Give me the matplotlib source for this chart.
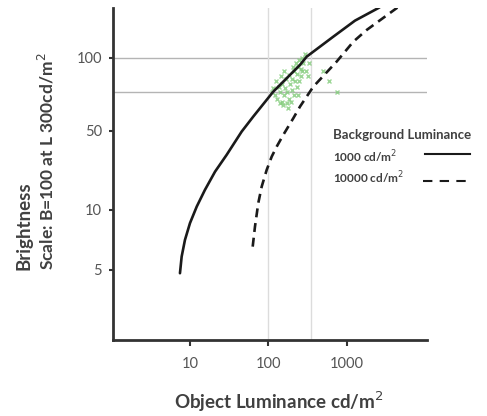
import numpy as np
import matplotlib
matplotlib.use("Agg")
import matplotlib.pyplot as plt
from matplotlib.lines import Line2D
from matplotlib.ticker import NullLocator

plt.rcParams["font.family"] = ["Lato", "DejaVu Sans"]

COR_TEXTO = "#404040"
COR_EIXO = "#333333"
COR_CURVA = "#1a1a1a"
COR_VERDE = "#84cc7c"

# curva com luminancia de fundo 1000 cd/m2
L_1000 = [7.45, 7.83, 8.63, 10.0, 12.2, 15.5, 20.9, 29.4, 45.7, 64.3, 115.8,
          254, 309, 676, 1280, 2541, 3583]
B_1000 = [4.81, 5.83, 7.07, 8.58, 10.7, 15.0, 21.8, 30.7, 49.3, 57.3, 72.6,
          93.6, 101.2, 122.4, 142.6, 160.7, 173]

# curva com luminancia de fundo 10000 cd/m2
L_10000 = [63.2, 67.6, 74.5, 82.4, 95.4, 110.5, 128, 155.4, 208.6, 254, 375.6,
           747, 1218, 1806, 4365, 5735]
B_10000 = [6.54, 8.25, 11.5, 16.1, 22.6, 29.6, 36.3, 46.1, 56.4, 63.0, 76.1,
           96.6, 116.7, 130.5, 160.7, 173]

# pontos observados (verde)
L_obs = [120, 130, 140, 150, 160, 135, 150, 165, 175, 185, 190, 200, 170, 185,
         200, 210, 220, 230, 240, 225, 250, 260, 270, 280, 290, 155, 175, 195,
         210, 230, 250, 260, 145, 160, 125, 115, 205, 300, 320, 500, 600, 750,
         330, 140, 180, 110, 240, 270]
B_obs = [70, 68, 72, 66, 70, 76, 78, 75, 72, 68, 78, 74, 82, 85,
         82, 88, 80, 86, 92, 95, 98, 90, 100, 95, 104, 64, 65, 66,
         70, 76, 80, 84, 84, 88, 80, 75, 92, 88, 84, 88, 80, 72,
         95, 65, 62, 72, 70, 88]

# linhas de referencia
REF_B = [100, 72]
REF_L = [100, 350]

Y_TICKS = [5, 10, 50, 100]
X_TICKS = [10, 100, 1000]

LEG_TITULO = "Background Luminance"
LEG_ROTULOS = ["1000 cd/m$^2$", "10000 cd/m$^2$"]

# escala do eixo y (nao e log: posicoes)
LOG_KNOTS = np.log10([1e-3, 1, 5, 10, 50, 100, 1000, 1e5])
POS_KNOTS = np.array([-600, -69, 70, 130, 209, 282, 524, 1500], dtype=float)


def forward(b):
    b = np.asarray(b, dtype=float)
    return np.interp(np.log10(np.clip(b, 1e-3, None)), LOG_KNOTS, POS_KNOTS)


def inverse(p):
    return 10 ** np.interp(np.asarray(p, dtype=float), POS_KNOTS, LOG_KNOTS)


fig = plt.figure(figsize=(4.87, 4.16), dpi=100, facecolor="white")
ax = fig.add_axes([0.232, 0.183, 0.645, 0.798])

ax.set_xscale("log")
ax.set_yscale("function", functions=(forward, inverse))
ax.set_xlim(1.04, 10650)
ax.set_ylim(float(inverse(0)), float(inverse(332)))

for b in REF_B:
    ax.axhline(b, color="#b4b4b4", lw=1.0, zorder=1)
for l in REF_L:
    ax.axvline(l, color="#dcdcdc", lw=1.0, zorder=1)

ax.plot(L_obs, B_obs, "x", color=COR_VERDE, ms=3.5, mew=1.0, alpha=0.8, zorder=2)

ax.plot(L_1000, B_1000, color=COR_CURVA, lw=1.9, zorder=3,
        solid_capstyle="round")
ax.plot(L_10000, B_10000, color=COR_CURVA, lw=1.9, ls=(0, (3.4, 2.2)), zorder=3)

ax.spines["top"].set_visible(False)
ax.spines["right"].set_visible(False)
for s in ["left", "bottom"]:
    ax.spines[s].set_linewidth(2.0)
    ax.spines[s].set_color(COR_EIXO)

ax.set_yticks(Y_TICKS)
ax.set_yticklabels([str(v) for v in Y_TICKS])
ax.set_xticks(X_TICKS)
ax.set_xticklabels([str(v) for v in X_TICKS])
ax.yaxis.set_minor_locator(NullLocator())
ax.xaxis.set_minor_locator(NullLocator())

ax.tick_params(axis="y", length=3, width=1.5, color=COR_EIXO, pad=5,
               labelsize=10.5, labelcolor="#555555")
ax.tick_params(axis="x", length=4, width=1.5, color=COR_EIXO, pad=8,
               labelsize=10.5, labelcolor="#555555")

# rotulos dos eixos
fig.text(0.573, 0.034, "Object Luminance cd/m$^2$", fontsize=13.5,
         fontweight="bold", color=COR_TEXTO, ha="center", va="center")
fig.text(0.049, 0.351, "Brightness", rotation=90, fontsize=13.5,
         fontweight="bold", color=COR_TEXTO, ha="center", va="bottom")
fig.text(0.096, 0.351, "Scale: B=100 at L 300cd/m$^2$", rotation=90,
         fontsize=12.5, fontweight="bold", color=COR_TEXTO,
         ha="center", va="bottom")

# legenda desenhada a mao
fig.text(0.684, 0.675, LEG_TITULO, fontsize=9.5, fontweight="bold",
         color=COR_TEXTO, va="center")
fig.text(0.684, 0.623, LEG_ROTULOS[0], fontsize=8.5, fontweight="bold",
         color=COR_TEXTO, va="center")
fig.text(0.684, 0.572, LEG_ROTULOS[1], fontsize=8.5, fontweight="bold",
         color=COR_TEXTO, va="center")
fig.add_artist(Line2D([0.873, 0.965], [0.630, 0.630], color=COR_CURVA, lw=1.5,
                      transform=fig.transFigure))
fig.add_artist(Line2D([0.869, 0.965], [0.565, 0.565], color=COR_CURVA, lw=1.5,
                      ls=(0, (4.5, 3.5)), transform=fig.transFigure))

fig.savefig("out.png", dpi=100, facecolor="white")
